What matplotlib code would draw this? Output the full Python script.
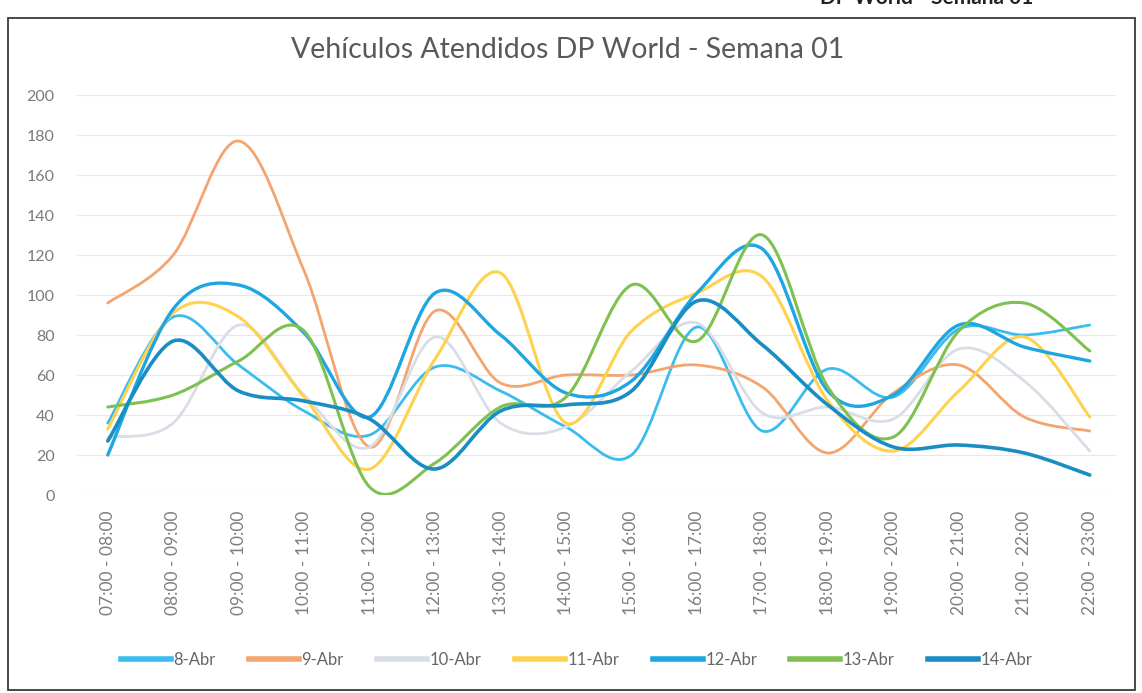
import numpy as np
import matplotlib
matplotlib.use("Agg")
import matplotlib.pyplot as plt
from matplotlib.path import Path
from matplotlib.patches import PathPatch, Rectangle

hours = ["07:00 - 08:00", "08:00 - 09:00", "09:00 - 10:00", "10:00 - 11:00",
         "11:00 - 12:00", "12:00 - 13:00", "13:00 - 14:00", "14:00 - 15:00",
         "15:00 - 16:00", "16:00 - 17:00", "17:00 - 18:00", "18:00 - 19:00",
         "19:00 - 20:00", "20:00 - 21:00", "21:00 - 22:00", "22:00 - 23:00"]

abr08 = [36, 89, 65, 42, 30, 64, 52, 34, 20, 84, 32, 63, 49, 83, 80, 85]
abr09 = [96, 120, 177, 112, 24, 92, 56, 60, 60, 65, 54, 21, 51, 65, 39, 32]
abr10 = [29, 36, 85, 50, 24, 79, 36, 34, 62, 86, 41, 44, 38, 73, 57, 22]
abr11 = [33, 91, 89, 49, 13, 68, 111, 36, 82, 101, 109, 47, 22, 52, 79, 39]
abr12 = [20, 93, 105, 81, 39, 101, 80, 51, 57, 101, 123, 52, 50, 85, 74, 67]
abr13 = [44, 50, 67, 82, 4, 16, 44, 49, 105, 77, 130, 54, 29, 82, 96, 72]
abr14 = [27, 77, 52, 47, 38, 13, 42, 45, 52, 97, 75, 45, 24, 25, 21, 10]

series = [("8-Abr", abr08, "#3bbcee", 2.0),
          ("9-Abr", abr09, "#f4a46f", 2.0),
          ("10-Abr", abr10, "#d8dde6", 2.0),
          ("11-Abr", abr11, "#ffd24d", 2.2),
          ("12-Abr", abr12, "#1ea6e3", 2.4),
          ("13-Abr", abr13, "#7ec150", 2.2),
          ("14-Abr", abr14, "#1a8dc2", 2.6)]

plt.rcParams['font.family'] = ['Lato', 'DejaVu Sans']


def smooth_path(y):
    # excel-style smoothed line: cubic bezier between points
    x = np.arange(len(y), dtype=float)
    y = np.asarray(y, dtype=float)
    pts = np.column_stack([x, y])
    n = len(pts)
    verts = [pts[0]]
    codes = [Path.MOVETO]
    for i in range(n - 1):
        p0 = pts[max(i - 1, 0)]
        p1 = pts[i]
        p2 = pts[i + 1]
        p3 = pts[min(i + 2, n - 1)]
        c1 = p1 + (p2 - p0) / 6.0
        c2 = p2 - (p3 - p1) / 6.0
        verts += [c1, c2, p2]
        codes += [Path.CURVE4] * 3
    return Path(verts, codes)


fig = plt.figure(figsize=(11.42, 6.93), dpi=100)
ax = fig.add_axes([0.0674, 0.2857, 0.9098, 0.5772])

for name, vals, col, lw in series:
    ax.add_patch(PathPatch(smooth_path(vals), fill=False, edgecolor=col,
                           lw=lw, capstyle='round', joinstyle='round'))
    ax.plot([], [], color=col, lw=4, label=name)

ax.set_xlim(-0.47, len(hours) - 0.6)
ax.set_ylim(0, 200)
ax.set_yticks(range(0, 201, 20))
ax.set_xticks(range(len(hours)))
ax.set_xticklabels(hours, rotation=90, fontsize=12.5, color="#7f7f7f")
ax.tick_params(axis='y', labelsize=11.5, labelcolor="#7a7a7a", length=0, pad=16)
ax.tick_params(axis='x', length=0, pad=11)
ax.grid(axis='y', color="#e8e8e8", lw=0.9)
ax.set_axisbelow(True)
for s in ax.spines.values():
    s.set_visible(False)

fig.text(0.497, 0.928, "Vehículos Atendidos DP World - Semana 01",
         ha='center', va='center', fontsize=20.5, color="#595959")

# header of the page, cut off by the scan
fig.text(0.905, 1.003, "DP World - Semana 01", ha='right', va='center',
         fontsize=15, fontweight='bold', color="#222222")

ax.legend(loc='center', bbox_to_anchor=(0.505, 0.048), bbox_transform=fig.transFigure,
          ncol=7, frameon=False, fontsize=12, handlelength=3.0, handletextpad=0.15,
          columnspacing=2.0, labelcolor="#666666")

fig.add_artist(Rectangle((0.007, 0.004), 0.987, 0.97, transform=fig.transFigure,
                         fill=False, ec="#3a3a3a", lw=1.3))

fig.savefig("out.png", dpi=100)
